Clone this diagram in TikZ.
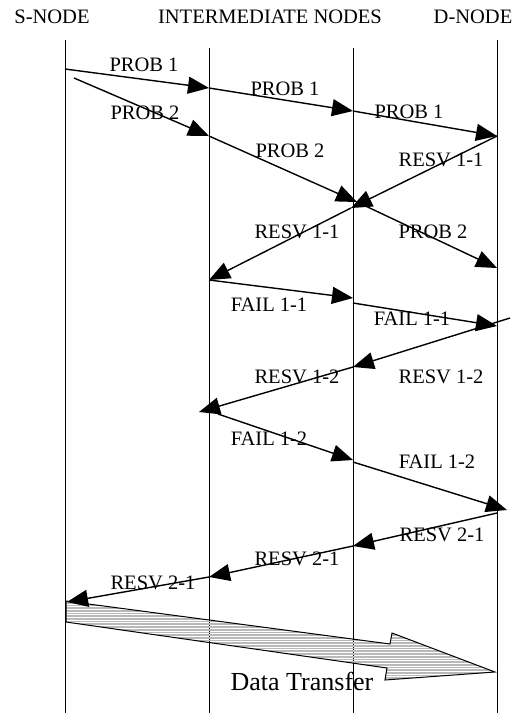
\documentclass[tikz,border=0pt]{standalone}
\usepackage{fontspec}
\setmainfont{Liberation Serif}
\usetikzlibrary{arrows.meta}
\begin{document}
\begin{tikzpicture}[x=1pt,y=-1pt,
  lifeline/.style={line width=1pt},
  msg/.style={line width=1.4pt,-{Triangle[length=21pt,width=17pt]}},
  lbl/.style={anchor=base,inner sep=0pt,font=\fontsize{20.5}{24}\selectfont},
  bigarrow/.style={line width=1pt,line join=miter},
  stripe/.style={gray!55,line width=1.7pt}
  ]
\useasboundingbox (0,0) rectangle (531,713);

% column headings
\node[lbl] (hS) at (52,23) {S-NODE};
\node[lbl] (hI) at (270,23) {INTERMEDIATE NODES};
\node[lbl] (hD) at (473,23) {D-NODE};

% lifelines
\coordinate (S0) at (65,40);  \coordinate (Sb) at (65,713);
\coordinate (A0) at (209,48); \coordinate (Ab) at (209,713);
\coordinate (B0) at (353,48); \coordinate (Bb) at (353,713);
\coordinate (D0) at (497,40); \coordinate (Db) at (497,713);
\draw[lifeline] (S0) -- (Sb);
\draw[lifeline] (A0) -- (Ab);
\draw[lifeline] (B0) -- (Bb);
\draw[lifeline] (D0) -- (Db);

% data transfer arrow (striped fill, lifelines show through the gaps)
\def\dtpath{(66,601) -- (390,644) -- (392,633) -- (495,672) -- (385,680) -- (387,668) -- (66,622) -- cycle}
\begin{scope}
  \clip \dtpath;
  \foreach \k in {0,...,31} {
    \draw[stripe] (60,{600+\k*2.7}) -- (500,{600+\k*2.7});
  }
\end{scope}
\draw[bigarrow] \dtpath;
\node[anchor=base,inner sep=0pt,font=\fontsize{26}{30}\selectfont] (dt) at (302,690) {Data Transfer};

% event points on the lifelines
\coordinate (S1) at (65,69);   \coordinate (A1) at (209,88);
\coordinate (B1) at (353,111); \coordinate (D1) at (497,136);
\coordinate (P2) at (74,78);   \coordinate (A2) at (209,136);
\coordinate (B2) at (357,202); \coordinate (D2) at (497,268);
\coordinate (B3) at (351,208); \coordinate (A3) at (209,280);
\coordinate (B4) at (353,298); \coordinate (B5) at (353,303);
\coordinate (D3) at (497,326);
\coordinate (R0) at (510,318); \coordinate (B6) at (353,367);
\coordinate (A4) at (199,412);
\coordinate (F0) at (218,414); \coordinate (B7) at (353,460);
\coordinate (B8) at (353,462); \coordinate (D4) at (507,510);
\coordinate (D5) at (497,513); \coordinate (B9) at (353,546);
\coordinate (A5) at (209,577); \coordinate (S2) at (67,602);

% probe messages
\draw[msg] (S1) -- (A1);
\draw[msg] (A1) -- (B1);
\draw[msg] (B1) -- (D1);
\draw[msg] (P2) -- (A2);
\draw[msg] (A2) -- (B2);
\draw[msg] (B2) -- (D2);
% reservation / failure messages
\draw[msg] (D1) -- (B3);
\draw[msg] (B3) -- (A3);
\draw[msg] (A3) -- (B4);
\draw[msg] (B5) -- (D3);
\draw[msg] (R0) -- (B6);
\draw[msg] (B6) -- (A4);
\draw[msg] (F0) -- (B7);
\draw[msg] (B8) -- (D4);
\draw[msg] (D5) -- (B9);
\draw[msg] (B9) -- (A5);
\draw[msg] (A5) -- (S2);

% message labels
\node[lbl] (l1) at (144,71) {PROB 1};
\node[lbl] (l2) at (285,95) {PROB 1};
\node[lbl] (l3) at (409,118) {PROB 1};
\node[lbl] (l4) at (145,119) {PROB 2};
\node[lbl] (l5) at (290,157) {PROB 2};
\node[lbl] (l6) at (441,166) {RESV 1-1};
\node[lbl] (l7) at (297,238) {RESV 1-1};
\node[lbl] (l8) at (433,238) {PROB 2};
\node[lbl] (l9) at (269,311) {FAIL 1-1};
\node[lbl] (l10) at (412,325) {FAIL 1-1};
\node[lbl] (l11) at (297,383) {RESV 1-2};
\node[lbl] (l12) at (441,383) {RESV 1-2};
\node[lbl] (l13) at (269,445) {FAIL 1-2};
\node[lbl] (l14) at (437,468) {FAIL 1-2};
\node[lbl] (l15) at (442,541) {RESV 2-1};
\node[lbl] (l16) at (297,565) {RESV 2-1};
\node[lbl] (l17) at (153,589) {RESV 2-1};
\end{tikzpicture}
\end{document}
